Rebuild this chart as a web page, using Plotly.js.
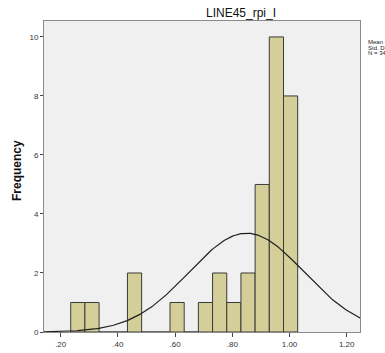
<!DOCTYPE html>
<html>
<head>
<meta charset="utf-8">
<script src="https://cdn.plot.ly/plotly-3.0.1.min.js"></script>
<style>
html,body{margin:0;padding:0;background:#fff;}
#chart{width:385px;height:353px;}
</style>
</head>
<body>
<div id="chart"></div>
<script>
// ---- data ----
const chartTitle = "LINE45_rpi_I";
const binStart = 0.235;
const binWidth = 0.0496;
const counts = [1, 1, 0, 0, 2, 0, 0, 1, 0, 1, 2, 1, 2, 5, 10, 8];
const meanValue = 0.85;
const stdValue = 0.201;
const nValue = 34;
const xTickVals = [0.2, 0.4, 0.6, 0.8, 1.0, 1.2];
const xTickText = [".20", ".40", ".60", ".80", "1.00", "1.20"];
const yTickVals = [0, 2, 4, 6, 8, 10];
const statLines = ["Mean = .85", "Std. Dev. = .201", "N = 34"];
const yAxisTitle = "Frequency";

// ---- build ----
const barX = counts.map((c, i) => binStart + (i + 0.5) * binWidth);
const xMin = 0.1416, xMax = 1.2465;
const curveX = [], curveY = [];
const steps = 300;
for (let i = 0; i <= steps; i++) {
  const x = xMin + (xMax - xMin) * i / steps;
  const z = (x - meanValue) / stdValue;
  curveX.push(x);
  curveY.push(nValue * binWidth / (stdValue * Math.sqrt(2 * Math.PI)) * Math.exp(-0.5 * z * z));
}

const traces = [
  {
    type: "bar",
    x: barX,
    y: counts,
    width: binWidth,
    marker: {color: "#d4cf98", line: {color: "#3a3a3a", width: 1}},
    hoverinfo: "skip"
  },
  {
    type: "scatter",
    mode: "lines",
    x: curveX,
    y: curveY,
    line: {color: "#1e1e1e", width: 1.2},
    hoverinfo: "skip"
  }
];

const fontFam = "Liberation Sans, Arial, sans-serif";
const plotL = 44, plotT = 21, plotW = 316, plotH = 311;
const annotations = statLines.map((t, i) => ({
  text: t,
  xref: "paper", yref: "paper",
  x: (365.5 - plotL) / plotW, y: (plotT + plotH - (41.5 + i * 6)) / plotH,
  xanchor: "left", yanchor: "middle",
  showarrow: false,
  font: {family: fontFam, size: 6, color: "#222"}
}));
annotations.push({
  text: "<b>" + yAxisTitle + "</b>",
  xref: "paper", yref: "paper",
  x: (17 - plotL) / plotW, y: (plotT + plotH - 171) / plotH,
  xanchor: "center", yanchor: "middle",
  textangle: -90,
  showarrow: false,
  font: {family: fontFam, size: 12, color: "#111"}
});

const layout = {
  width: 385,
  height: 353,
  margin: {l: 44, r: 25, t: 21, b: 21, pad: 0},
  paper_bgcolor: "#ffffff",
  plot_bgcolor: "#f0f0f0",
  showlegend: false,
  bargap: 0,
  font: {family: fontFam, color: "#333"},
  title: {
    text: chartTitle,
    font: {family: fontFam, size: 12, color: "#111"},
    x: 240 / 385, xanchor: "center", xref: "paper",
    y: 1 - 12.5 / 353, yanchor: "middle", yref: "container"
  },
  xaxis: {
    range: [xMin, xMax],
    tickvals: xTickVals,
    ticktext: xTickText,
    ticks: "outside",
    ticklen: 4,
    tickcolor: "#444",
    tickfont: {size: 8, color: "#333"},
    showgrid: false,
    zeroline: false,
    showline: true,
    mirror: true,
    linecolor: "#8a8a8a",
    linewidth: 1
  },
  yaxis: {
    range: [0, 10.54],
    tickvals: yTickVals,
    ticks: "outside",
    ticklen: 3,
    tickcolor: "#444",
    tickfont: {size: 8, color: "#333"},
    showgrid: false,
    zeroline: false,
    showline: true,
    mirror: true,
    linecolor: "#8a8a8a",
    linewidth: 1
  },
  annotations: annotations
};

Plotly.newPlot("chart", traces, layout, {displayModeBar: false, staticPlot: true});
</script>
</body>
</html>
